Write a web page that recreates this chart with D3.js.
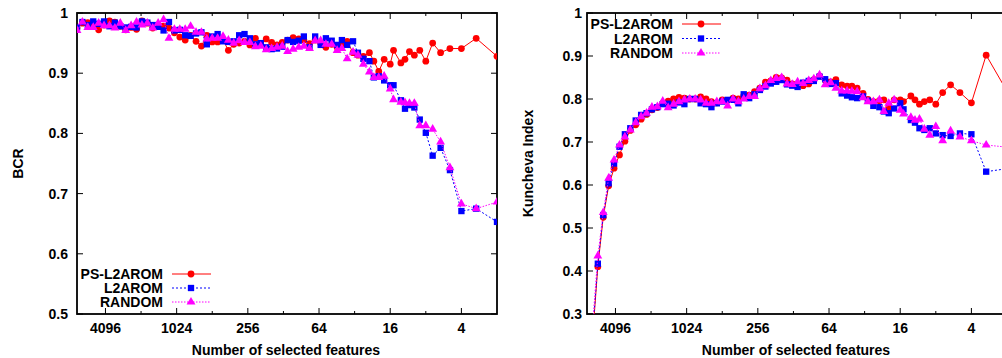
<!DOCTYPE html>
<html>
<head>
<meta charset="utf-8">
<script src="https://cdn.jsdelivr.net/npm/d3@7"></script>
<style>
  body { margin: 0; background: #fff; }
  svg text { font-family: "Liberation Sans", Arial, sans-serif; font-weight: bold; font-size: 14px; fill: #000; }
</style>
</head>
<body>
<div id="chart"></div>
<script>
// number of selected features at each step
const features = [
  7129, 6416, 5774, 5197, 4677, 4209, 3788, 3409, 3068, 2761,
  2485, 2237, 2013, 1812, 1631, 1468, 1321, 1189, 1070, 963,
  867, 780, 702, 632, 569, 512, 461, 415, 374, 337,
  303, 273, 246, 221, 199, 179, 161, 145, 131, 118,
  106, 95, 86, 77, 69, 62, 56, 50, 45, 41,
  37, 33, 30, 27, 24, 22, 20, 18, 16, 15,
  13, 12, 11, 10, 9, 8, 7, 6, 5, 4,
  3, 2
];

const bcrPs = [
  0.975, 0.983, 0.984, 0.978, 0.972, 0.980, 0.987, 0.985, 0.978, 0.972,
  0.976, 0.973, 0.987, 0.983, 0.975, 0.980, 0.978, 0.975, 0.967, 0.960,
  0.955, 0.963, 0.953, 0.945, 0.963, 0.952, 0.952, 0.955, 0.938, 0.948,
  0.950, 0.953, 0.947, 0.958, 0.948, 0.957, 0.951, 0.947, 0.951, 0.955,
  0.959, 0.957, 0.955, 0.949, 0.955, 0.950, 0.943, 0.948, 0.943, 0.947,
  0.953, 0.934, 0.930, 0.928, 0.934, 0.920, 0.903, 0.923, 0.915, 0.938,
  0.917, 0.923, 0.936, 0.930, 0.938, 0.920, 0.950, 0.934, 0.941, 0.941,
  0.958, 0.928
];
const bcrL2 = [
  0.976, 0.985, 0.980, 0.986, 0.982, 0.986, 0.978, 0.984, 0.978, 0.976,
  0.977, 0.976, 0.986, 0.984, 0.980, 0.977, 0.971, 0.985, 0.971, 0.972,
  0.963, 0.962, 0.966, 0.968, 0.948, 0.961, 0.965, 0.953, 0.952, 0.953,
  0.963, 0.965, 0.958, 0.948, 0.950, 0.943, 0.940, 0.941, 0.944, 0.955,
  0.952, 0.954, 0.961, 0.943, 0.961, 0.947, 0.958, 0.954, 0.947, 0.955,
  0.947, 0.953, 0.934, 0.924, 0.920, 0.893, 0.895, 0.888, 0.880, 0.880,
  0.855, 0.841, 0.847, 0.843, 0.823, 0.801, 0.763, 0.776, 0.739, 0.671,
  0.675, 0.653
];
const bcrRandom = [
  0.971, 0.985, 0.976, 0.976, 0.983, 0.979, 0.979, 0.975, 0.983, 0.971,
  0.979, 0.985, 0.980, 0.983, 0.975, 0.983, 0.989, 0.958, 0.973, 0.973,
  0.973, 0.978, 0.968, 0.968, 0.957, 0.958, 0.958, 0.961, 0.955, 0.950,
  0.954, 0.951, 0.951, 0.944, 0.945, 0.939, 0.941, 0.943, 0.945, 0.936,
  0.940, 0.943, 0.945, 0.941, 0.954, 0.954, 0.948, 0.948, 0.938, 0.941,
  0.924, 0.935, 0.930, 0.915, 0.902, 0.893, 0.893, 0.895, 0.874, 0.856,
  0.852, 0.851, 0.850, 0.850, 0.813, 0.813, 0.807, 0.786, 0.743, 0.683,
  0.675, 0.686
];

const kiPs = [
  null, 0.240, 0.410, 0.525, 0.598, 0.639, 0.670, 0.702, 0.727, 0.740,
  0.753, 0.764, 0.775, 0.780, 0.790, 0.795, 0.800, 0.804, 0.802, 0.800,
  0.800, 0.805, 0.800, 0.794, 0.791, 0.798, 0.797, 0.802, 0.800, 0.808,
  0.809, 0.817, 0.825, 0.839, 0.842, 0.850, 0.849, 0.844, 0.835, 0.834,
  0.831, 0.835, 0.845, 0.853, 0.844, 0.840, 0.845, 0.833, 0.830, 0.830,
  0.825, 0.813, 0.799, 0.794, 0.796, 0.798, 0.781, 0.798, 0.798, 0.794,
  0.807, 0.798, 0.788, 0.794, 0.798, 0.788, 0.815, 0.833, 0.815, 0.791,
  0.902, 0.818
];
const kiL2 = [
  null, 0.250, 0.417, 0.530, 0.604, 0.650, 0.689, 0.718, 0.732, 0.750,
  0.763, 0.767, 0.776, 0.781, 0.788, 0.789, 0.785, 0.792, 0.788, 0.800,
  0.800, 0.790, 0.788, 0.781, 0.790, 0.794, 0.798, 0.798, 0.790, 0.811,
  0.802, 0.811, 0.821, 0.829, 0.836, 0.840, 0.844, 0.834, 0.831, 0.828,
  0.838, 0.842, 0.842, 0.852, 0.846, 0.835, 0.837, 0.813, 0.808, 0.804,
  0.802, 0.806, 0.796, 0.784, 0.781, 0.771, 0.767, 0.778, 0.790, 0.776,
  0.751, 0.745, 0.732, 0.728, 0.732, 0.720, 0.716, 0.714, 0.720, 0.718,
  0.631, 0.638
];
const kiRandom = [
  null, 0.270, 0.435, 0.536, 0.616, 0.658, 0.693, 0.712, 0.728, 0.745,
  0.759, 0.767, 0.781, 0.782, 0.795, 0.780, 0.788, 0.794, 0.798, 0.800,
  0.800, 0.798, 0.790, 0.790, 0.794, 0.794, 0.784, 0.800, 0.794, 0.800,
  0.806, 0.806, 0.824, 0.831, 0.843, 0.848, 0.850, 0.835, 0.834, 0.840,
  0.836, 0.843, 0.847, 0.856, 0.833, 0.838, 0.825, 0.819, 0.819, 0.818,
  0.817, 0.803, 0.794, 0.794, 0.798, 0.771, 0.790, 0.798, 0.774, 0.765,
  0.757, 0.751, 0.753, 0.730, 0.716, 0.736, 0.703, 0.726, 0.712, 0.703,
  0.693, 0.688
];

const seriesNames = ['PS-L2AROM', 'L2AROM', 'RANDOM'];
const xTicks = [4096, 1024, 256, 64, 16, 4];
const xMinorTicks = [2048, 512, 128, 32, 8];
const bcrTicks = [0.5, 0.6, 0.7, 0.8, 0.9, 1];
const kiTicks = [0.3, 0.4, 0.5, 0.6, 0.7, 0.8, 0.9, 1];

const styles = [
  { color: '#ff0000', dash: null, shape: d3.symbolCircle, size: 36 },
  { color: '#0000ff', dash: '2,2', shape: d3.symbolSquare, size: 40 },
  { color: '#ff00ff', dash: '1.5,1.5', shape: d3.symbolTriangle, size: 34 }
];

const svg = d3.select('#chart').append('svg')
  .attr('width', 1002)
  .attr('height', 358);

function drawPanel(p) {
  const x = d3.scaleLog().domain([7129, 2]).range([p.left, p.right]);
  const y = d3.scaleLinear().domain(p.yDomain).range([p.bottom, p.top]);
  const g = svg.append('g');

  g.append('clipPath').attr('id', p.id)
    .append('rect')
    .attr('x', p.left).attr('y', p.top)
    .attr('width', p.right - p.left).attr('height', p.bottom - p.top);

  // ticks (inward, mirrored)
  const tl = g.append('g').attr('stroke', '#000').attr('stroke-width', 1);
  xTicks.forEach(t => {
    tl.append('line').attr('x1', x(t)).attr('x2', x(t)).attr('y1', p.bottom).attr('y2', p.bottom - 6);
    tl.append('line').attr('x1', x(t)).attr('x2', x(t)).attr('y1', p.top).attr('y2', p.top + 6);
  });
  xMinorTicks.forEach(t => {
    tl.append('line').attr('x1', x(t)).attr('x2', x(t)).attr('y1', p.bottom).attr('y2', p.bottom - 3);
    tl.append('line').attr('x1', x(t)).attr('x2', x(t)).attr('y1', p.top).attr('y2', p.top + 3);
  });
  p.yTicks.forEach(t => {
    tl.append('line').attr('x1', p.left).attr('x2', p.left + 6).attr('y1', y(t)).attr('y2', y(t));
    if (p.mirrorY) {
      tl.append('line').attr('x1', p.right).attr('x2', p.right - 6).attr('y1', y(t)).attr('y2', y(t));
    }
  });

  g.append('rect')
    .attr('x', p.left).attr('y', p.top)
    .attr('width', p.right - p.left).attr('height', p.bottom - p.top)
    .attr('fill', 'none').attr('stroke', '#000').attr('stroke-width', 1.8);

  // tick labels
  g.selectAll('.xl').data(xTicks).enter().append('text')
    .attr('x', d => x(d)).attr('y', p.bottom + 19)
    .attr('text-anchor', 'middle').text(d => d);
  g.selectAll('.yl').data(p.yTicks).enter().append('text')
    .attr('x', p.left - p.yLabelGap).attr('y', d => y(d) + 5)
    .attr('text-anchor', 'end').text(d => d);

  g.append('text')
    .attr('x', p.left + 209).attr('y', 355)
    .attr('text-anchor', 'middle')
    .text('Number of selected features');
  g.append('text')
    .attr('transform', `translate(${p.yTitleX},${(p.top + p.bottom) / 2}) rotate(-90)`)
    .attr('text-anchor', 'middle')
    .text(p.yTitle);

  const plot = g.append('g').attr('clip-path', `url(#${p.id})`);
  p.series.forEach((vals, k) => {
    const st = styles[k];
    const pts = features.map((f, i) => ({ f: f, v: vals[i] })).filter(d => d.v !== null);
    const line = d3.line().x(d => x(d.f)).y(d => y(d.v));
    plot.append('path')
      .datum(pts)
      .attr('fill', 'none')
      .attr('stroke', st.color)
      .attr('stroke-width', 1)
      .attr('stroke-dasharray', st.dash)
      .attr('d', line);
    plot.selectAll('.pt' + k)
      .data(pts.filter(d => d.v >= p.yDomain[0] && d.v <= p.yDomain[1]))
      .enter().append('path')
      .attr('transform', d => `translate(${x(d.f)},${y(d.v)})`)
      .attr('d', d3.symbol().type(st.shape).size(st.size))
      .attr('fill', st.color);
  });

  // legend
  seriesNames.forEach((name, k) => {
    const st = styles[k];
    const cy = p.legendY + k * p.legendStep;
    g.append('text').attr('x', p.legendX).attr('y', cy + 5)
      .attr('text-anchor', 'end').text(name);
    g.append('line')
      .attr('x1', p.legendX + 9).attr('x2', p.legendX + 48)
      .attr('y1', cy).attr('y2', cy)
      .attr('stroke', st.color).attr('stroke-width', 1)
      .attr('stroke-dasharray', st.dash);
    g.append('path')
      .attr('transform', `translate(${p.legendX + 28},${cy})`)
      .attr('d', d3.symbol().type(st.shape).size(st.size))
      .attr('fill', st.color);
  });
}

drawPanel({
  id: 'clipBcr', left: 77, right: 497, top: 13, bottom: 314,
  yDomain: [0.5, 1], yTicks: bcrTicks, yLabelGap: 9, mirrorY: true,
  yTitle: 'BCR', yTitleX: 23,
  series: [bcrPs, bcrL2, bcrRandom],
  legendX: 163, legendY: 274, legendStep: 14
});

// right panel runs past the window edge, as in the source figure
drawPanel({
  id: 'clipKi', left: 587, right: 1007, top: 13, bottom: 314,
  yDomain: [0.3, 1], yTicks: kiTicks, yLabelGap: 5, mirrorY: false,
  yTitle: 'Kuncheva Index', yTitleX: 533,
  series: [kiPs, kiL2, kiRandom],
  legendX: 673, legendY: 24, legendStep: 14.5
});
</script>
</body>
</html>
